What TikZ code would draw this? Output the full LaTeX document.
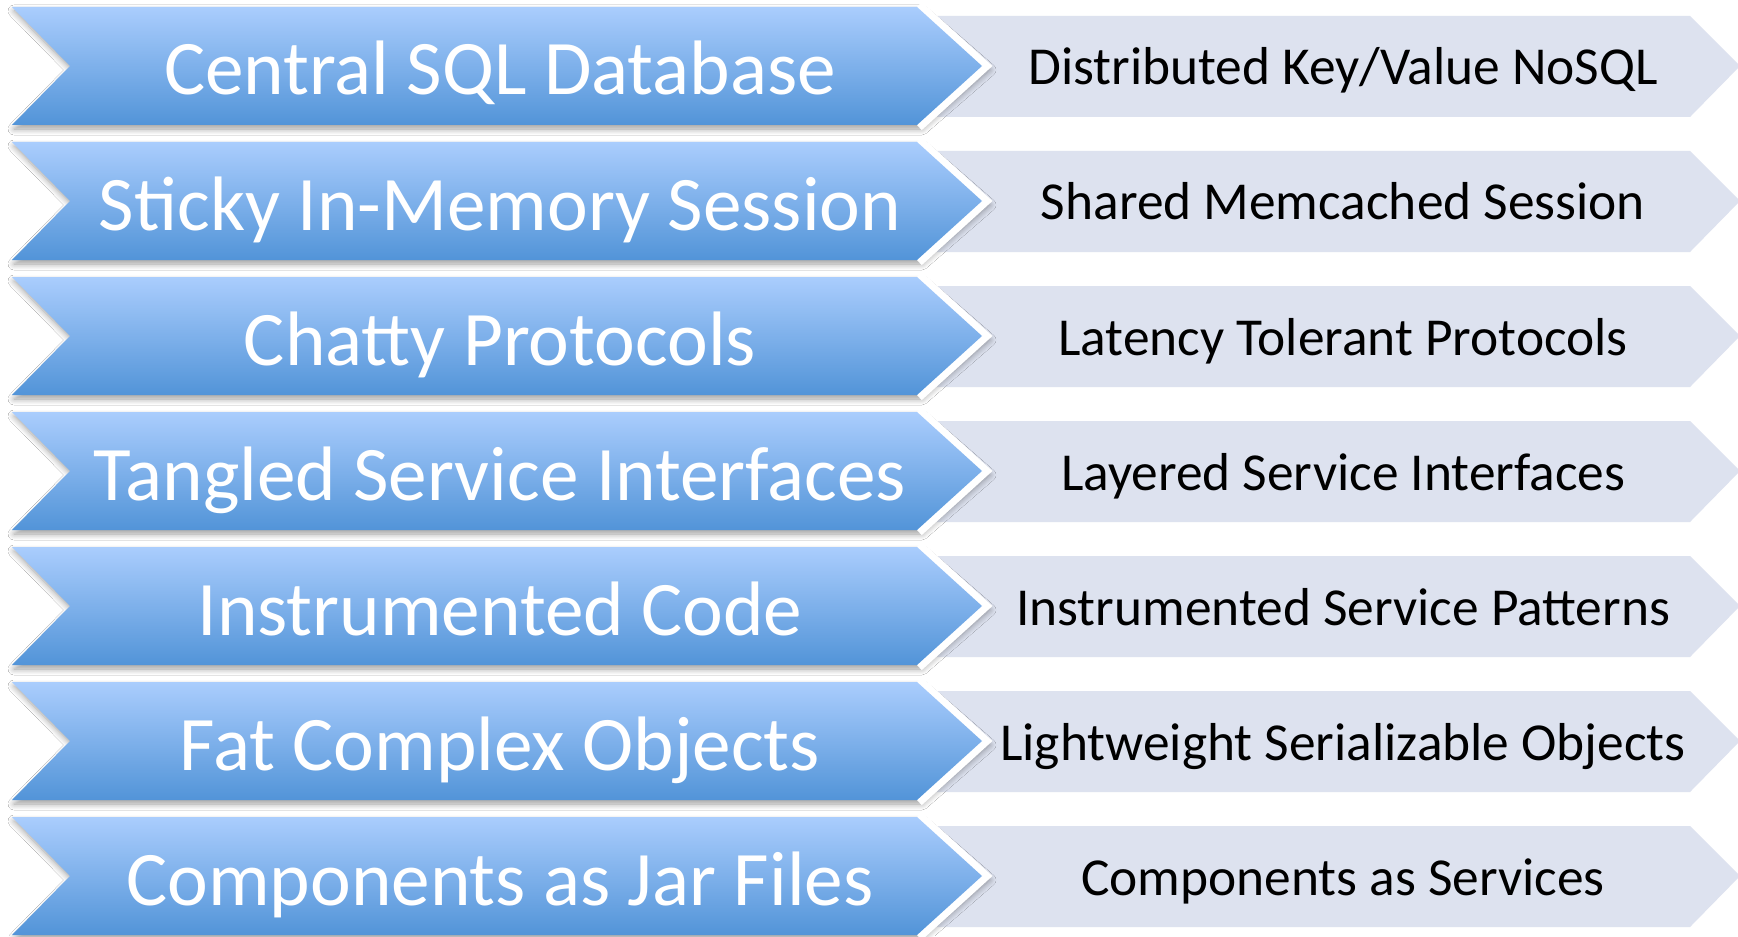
\documentclass[tikz,border=0pt]{standalone}
\usepackage{fontspec}
\setmainfont{Carlito}
\usetikzlibrary{shadows.blur}
\definecolor{bluetop}{RGB}{170,205,253}
\definecolor{bluebot}{RGB}{82,148,216}
\definecolor{greyfill}{RGB}{221,226,239}
\tikzset{
  barshadow/.style={blur shadow={shadow xshift=1pt, shadow yshift=-2pt, shadow blur radius=3pt,
      shadow blur steps=8, shadow opacity=38}},
  bluebar/.style={top color=bluetop, bottom color=bluebot, draw=none},
  greybar/.style={fill=greyfill, draw=none},
  halo/.style={draw=white, line width=7pt, line join=miter},
  bluetext/.style={text=white, font=\fontsize{38.6}{38.6}\selectfont, inner sep=0pt, anchor=base},
  greytext/.style={text=black, font=\fontsize{26.7}{26.7}\selectfont, inner sep=0pt, anchor=base}
}
\begin{document}
\begin{tikzpicture}[x=0.5pt,y=-0.5pt]
\useasboundingbox[fill=white] (0,0) rectangle (1738,936);
\foreach \i/\old/\new in {
  0/{Central SQL Database}/{Distributed Key/Value NoSQL},
  1/{Sticky In-Memory Session}/{Shared Memcached Session},
  2/{Chatty Protocols}/{Latency Tolerant Protocols},
  3/{Tangled Service Interfaces}/{Layered Service Interfaces},
  4/{Instrumented Code}/{Instrumented Service Patterns},
  5/{Fat Complex Objects}/{Lightweight Serializable Objects},
  6/{Components as Jar Files}/{Components as Services}}{
  \pgfmathsetmacro{\t}{7+135*\i}
  \pgfmathsetmacro{\m}{\t+59}
  \pgfmathsetmacro{\b}{\t+118}
  \pgfmathsetmacro{\gt}{\t+9}
  \pgfmathsetmacro{\gb}{\t+110}
  % grey target chevron
  \path[greybar] (935,\gt) -- (1690,\gt) -- (1740,\m) -- (1690,\gb) -- (935,\gb) -- (985,\m) -- cycle;
  % soft shadow of the blue chevron together with its white rim
  \path[barshadow] (12,\t) -- (920,\t) -- (988,\m) -- (920,\b) -- (12,\b) -- (70,\m) -- cycle;
  % white rim round the blue tip
  \path[halo] (917,\t) -- (982,\m) -- (917,\b);
  % blue source chevron
  \path[bluebar] (12,\t) -- (917,\t) -- (982,\m) -- (917,\b) -- (12,\b) -- (70,\m) -- cycle;
  \node[bluetext] (old\i) at (500,\m+29) {\old};
  \node[greytext] (new\i) at (1343,\m+19) {\new};
}
\end{tikzpicture}
\end{document}
